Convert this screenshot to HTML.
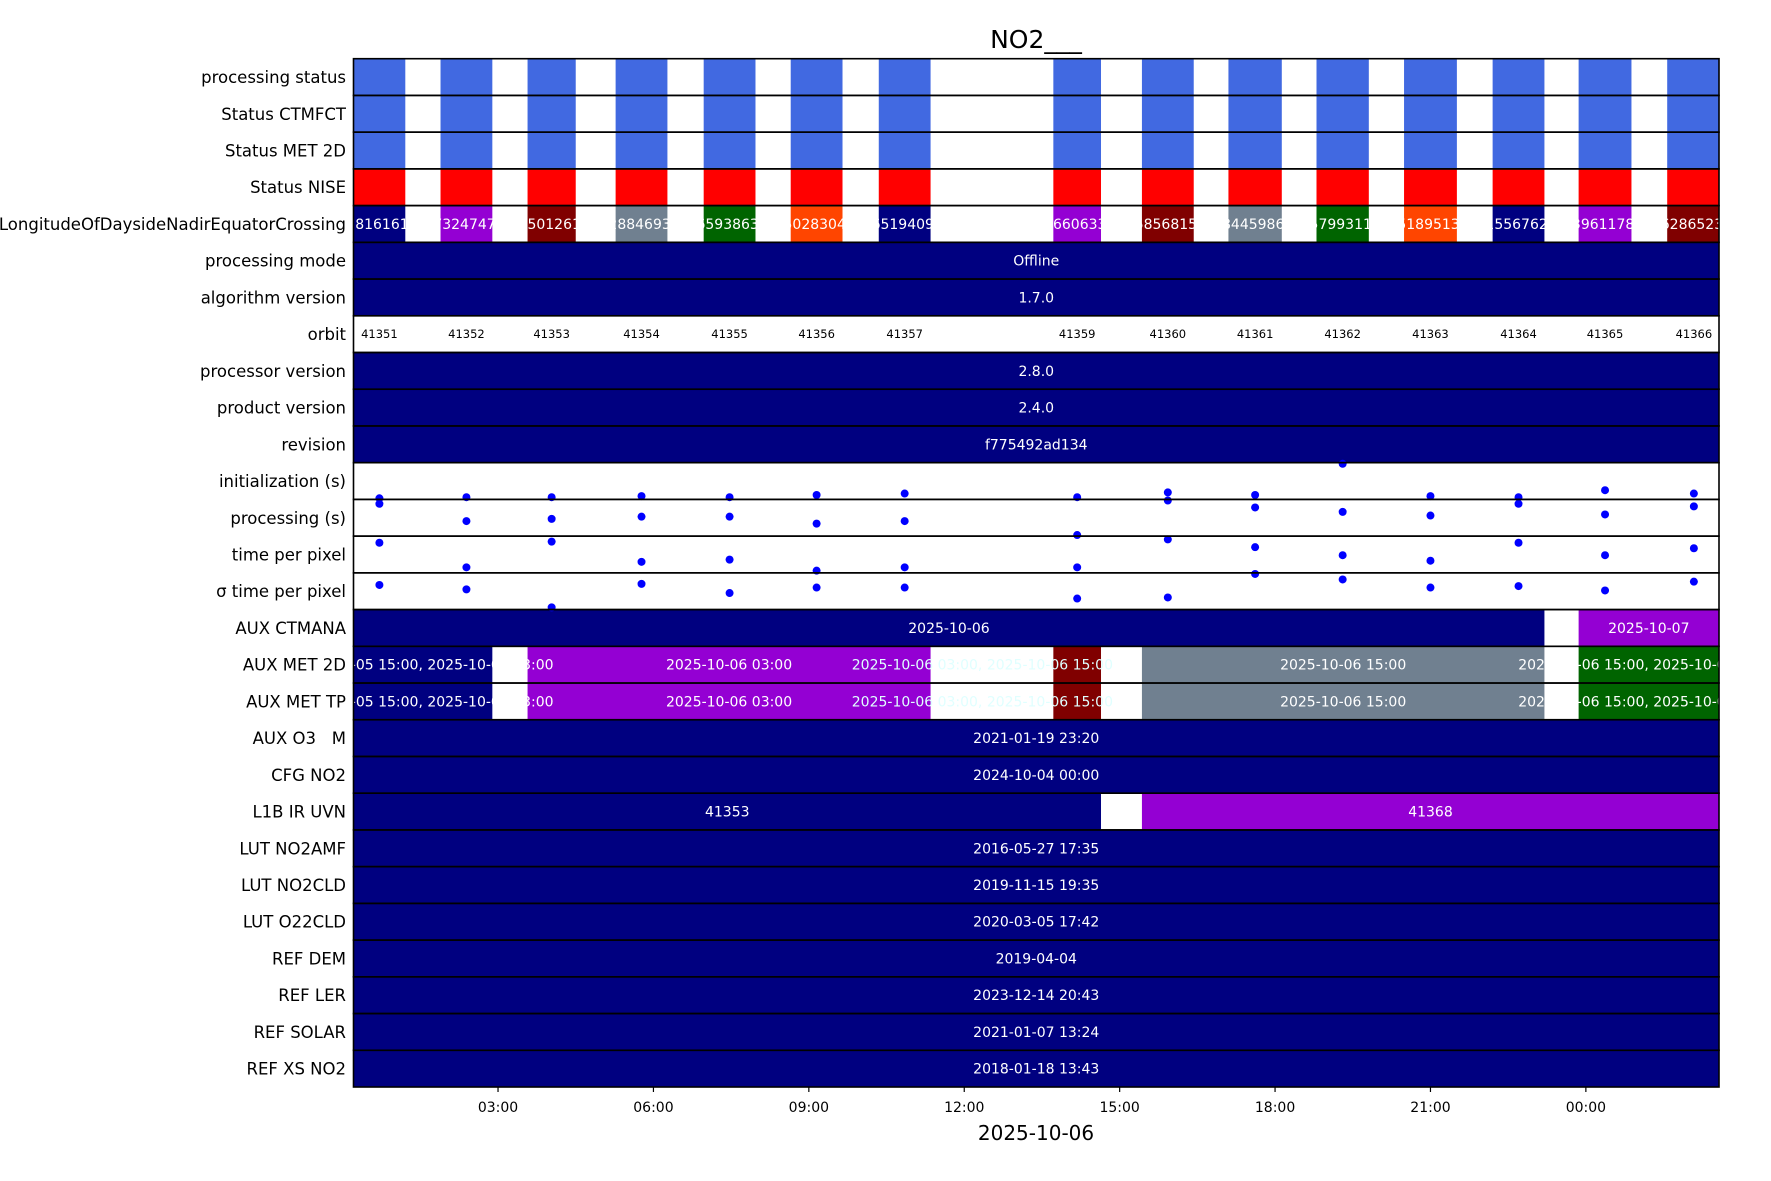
<!DOCTYPE html>
<html><head><meta charset="utf-8"><style>
html,body{margin:0;padding:0;background:#fff;}
svg{display:block;font-family:"DejaVu Sans","Liberation Sans",sans-serif;}
</style></head><body>
<svg id="chart" width="1771" height="1181" viewBox="0 0 1771 1181" xmlns="http://www.w3.org/2000/svg">
<defs><clipPath id="plotclip"><rect x="353.5" y="58" width="1365.5" height="1030"/></clipPath></defs>
<text x="1036" y="48" font-size="25" text-anchor="middle">NO2___</text>
<g id="rows" clip-path="url(#plotclip)"></g>
<g id="frames"></g>
<g id="labels"></g>
<g id="xaxis"></g>
<text x="1036" y="1140" font-size="20" text-anchor="middle">2025-10-06</text>
</svg>
<script>
// ---- data ----
const rowLabels = ["processing status","Status CTMFCT","Status MET 2D","Status NISE","LongitudeOfDaysideNadirEquatorCrossing","processing mode","algorithm version","orbit","processor version","product version","revision","initialization (s)","processing (s)","time per pixel","σ time per pixel","AUX CTMANA","AUX MET 2D","AUX MET TP","AUX O3\u00a0\u00a0\u00a0M","CFG NO2","L1B IR UVN","LUT NO2AMF","LUT NO2CLD","LUT O22CLD","REF DEM","REF LER","REF SOLAR","REF XS NO2"];
const orbits = [41351,41352,41353,41354,41355,41356,41357,41359,41360,41361,41362,41363,41364,41365,41366];
const startH = [0.21,1.89,3.57,5.27,6.97,8.65,10.35,13.72,15.43,17.1,18.8,20.49,22.2,23.86,25.57];
const endH   = [1.21,2.89,4.50,6.27,7.97,9.65,11.35,14.64,16.43,18.13,19.81,21.51,23.2,24.88,26.6];
const lonColors = ["#000080","#9400d3","#800000","#708090","#006400","#ff4500","#000080","#9400d3","#800000","#708090","#006400","#ff4500","#000080","#9400d3","#800000"];
const lonText = ["-78161616","-73247478","-25012618","-28846939","-65938634","-50283040","-65194091","-56606337","-58568151","-84459860","-57993110","-51895137","-15567626","-39611784","-62865234"];
const initVals = [0.03,0.06,0.06,0.09,0.06,0.12,0.16,0.06,0.19,0.12,0.97,0.09,0.06,0.25,0.16];
const procVals = [0.88,0.41,0.47,0.53,0.53,0.34,0.41,0.03,0.97,0.78,0.66,0.56,0.88,0.59,0.81];
const tppVals  = [0.82,0.15,0.85,0.30,0.36,0.06,0.15,0.15,0.91,0.70,0.48,0.33,0.82,0.48,0.67];
const sigVals  = [0.67,0.55,0.06,0.70,0.45,0.60,0.60,0.30,0.33,0.97,0.82,0.60,0.64,0.52,0.76];
const segRows = [
 [5,0,26.6,"#000080","Offline"],[6,0,26.6,"#000080","1.7.0"],[8,0,26.6,"#000080","2.8.0"],[9,0,26.6,"#000080","2.4.0"],[10,0,26.6,"#000080","f775492ad134"],
 [15,0,23.2,"#000080","2025-10-06"],[15,23.86,26.6,"#9400d3","2025-10-07"],
 [16,0,2.89,"#000080","2025-10-05 15:00, 2025-10-06 03:00"],[16,3.57,11.35,"#9400d3","2025-10-06 03:00"],[16,13.72,14.64,"#800000",""],[16,15.43,23.2,"#708090","2025-10-06 15:00"],[16,23.86,26.6,"#006400","2025-10-06 15:00, 2025-10-07 03:00"],
 [17,0,2.89,"#000080","2025-10-05 15:00, 2025-10-06 03:00"],[17,3.57,11.35,"#9400d3","2025-10-06 03:00"],[17,13.72,14.64,"#800000",""],[17,15.43,23.2,"#708090","2025-10-06 15:00"],[17,23.86,26.6,"#006400","2025-10-06 15:00, 2025-10-07 03:00"],
 [18,0,26.6,"#000080","2021-01-19 23:20"],[19,0,26.6,"#000080","2024-10-04 00:00"],
 [20,0,14.64,"#000080","41353"],[20,15.43,26.6,"#9400d3","41368"],
 [21,0,26.6,"#000080","2016-05-27 17:35"],[22,0,26.6,"#000080","2019-11-15 19:35"],[23,0,26.6,"#000080","2020-03-05 17:42"],
 [24,0,26.6,"#000080","2019-04-04"],[25,0,26.6,"#000080","2023-12-14 20:43"],[26,0,26.6,"#000080","2021-01-07 13:24"],[27,0,26.6,"#000080","2018-01-18 13:43"]
];
const tickHours = [3,6,9,12,15,18,21,24];
const tickLabels = ["03:00","06:00","09:00","12:00","15:00","18:00","21:00","00:00"];
const metExtra = [[16,12.35,"2025-10-06 03:00, 2025-10-06 15:00"],[17,12.35,"2025-10-06 03:00, 2025-10-06 15:00"]];

// ---- axes ----
const X0=353.5, X1=1719, Y0=58.7, Y1=1087, H0=0.21, H1=26.57;
const rowH=(Y1-Y0)/rowLabels.length;
const x = h => X0 + (h-H0)/(H1-H0)*(X1-X0);
const rowTop = r => Y0 + r*rowH;
const NS="http://www.w3.org/2000/svg";
function mk(tag, attrs, parent, txt){const e=document.createElementNS(NS,tag);for(const k in attrs)e.setAttribute(k,attrs[k]);if(txt!==undefined)e.textContent=txt;parent.appendChild(e);return e;}
const G=document.getElementById("rows"), F=document.getElementById("frames"), L=document.getElementById("labels"), XA=document.getElementById("xaxis");

const statusColors=["#4169e1","#4169e1","#4169e1","#ff0000"];
for(let r=0;r<4;r++){
  for(let i=0;i<orbits.length;i++){
    const e=mk("rect",{x:x(startH[i]),y:rowTop(r),width:x(endH[i])-x(startH[i]),height:rowH,fill:statusColors[r]},G);
    
    
  }
}
for(let i=0;i<orbits.length;i++){
  const e=mk("rect",{x:x(startH[i]),y:rowTop(4),width:x(endH[i])-x(startH[i]),height:rowH,fill:lonColors[i]},G);
  
  
  const t=mk("text",{x:(x(startH[i])+x(endH[i]))/2,y:rowTop(4)+rowH/2+5,"font-size":14,fill:"#fff","text-anchor":"middle"},G,lonText[i]);
  
  
}
for(let i=0;i<orbits.length;i++){
  const t=mk("text",{x:(x(startH[i])+x(endH[i]))/2,y:rowTop(7)+rowH/2+4,"font-size":11.5,fill:"#000","text-anchor":"middle"},G,String(orbits[i]));
  
  
}
segRows.forEach(s=>{
  const e=mk("rect",{x:x(s[1]),y:rowTop(s[0]),width:x(s[2])-x(s[1]),height:rowH,fill:s[3]},G);
  
  
});
metExtra.forEach(m=>{
  const t=mk("text",{x:x(m[1]),y:rowTop(m[0])+rowH/2+5,"font-size":14,fill:"#e0ffff","text-anchor":"middle"},G,m[2]);
  
  
});
segRows.forEach(s=>{
  if(!s[4])return;
  const a=Math.max(x(s[1]),X0), b=Math.min(x(s[2]),X1);
  const t=mk("text",{x:(a+b)/2,y:rowTop(s[0])+rowH/2+5,"font-size":14,fill:"#fff","text-anchor":"middle"},G,s[4]);
  
  
});
[[11,initVals],[12,procVals],[13,tppVals],[14,sigVals]].forEach(([r,vals])=>{
  vals.forEach((v,i)=>{
    const c=mk("circle",{cx:(x(startH[i])+x(endH[i]))/2,cy:rowTop(r+1)-v*rowH,r:4,fill:"#0000ff"},G);
    
    
  });
});
rowLabels.forEach((lab,r)=>{
  const fr=mk("rect",{x:X0,y:rowTop(r),width:X1-X0,height:rowH,fill:"none",stroke:"#000","stroke-width":1.6},F);
  
  
  const t=mk("text",{x:346,y:rowTop(r)+rowH/2+6,"font-size":16.5,"text-anchor":"end",fill:"#000"},L,lab);
  
  
});
tickHours.forEach((h,i)=>{
  const tk=mk("line",{x1:x(h),x2:x(h),y1:Y1,y2:Y1+5,stroke:"#000","stroke-width":1.2},XA);
  
  
  const t=mk("text",{x:x(h),y:1112,"font-size":14,"text-anchor":"middle",fill:"#000"},XA,tickLabels[i]);
  
  
});
</script>
</body></html>
